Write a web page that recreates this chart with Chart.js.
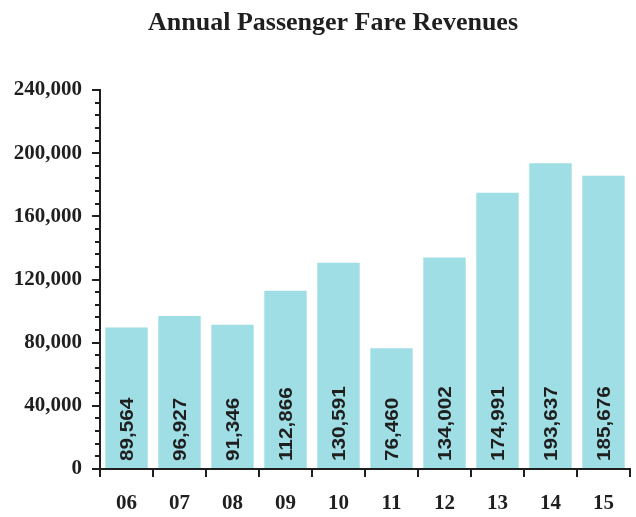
<!DOCTYPE html>
<html>
<head>
<meta charset="utf-8">
<script src="https://cdn.jsdelivr.net/npm/chart.js@4"></script>
<style>
  html, body { margin: 0; padding: 0; background: #fff; }
  #wrap { width: 636px; height: 517px; }
</style>
</head>
<body>
<div id="wrap"><canvas id="fareChart" width="636" height="517"></canvas></div>
<script>
const years = ['06', '07', '08', '09', '10', '11', '12', '13', '14', '15'];
const revenues = [89564, 96927, 91346, 112866, 130591, 76460, 134002, 174991, 193637, 185676];
const yMax = 240000;
const majorStep = 40000;
const minorStep = 8000;
const chartTitle = 'Annual Passenger Fare Revenues';

const ink = '#1f1f1f';
const serif = '"Liberation Serif", "Times New Roman", serif';

// title (set a little right of the canvas centre), minor y ticks,
// and the rotated value labels inside each bar
const extras = {
  id: 'extras',
  afterDraw(chart) {
    const ctx = chart.ctx;
    ctx.save();
    ctx.fillStyle = ink;
    ctx.font = 'bold 26px ' + serif;
    ctx.textAlign = 'center';
    ctx.textBaseline = 'middle';
    ctx.fillText(chartTitle, 333, 23);
    ctx.restore();
  },
  afterDatasetsDraw(chart) {
    const ctx = chart.ctx;
    const y = chart.scales.y;
    const x0 = chart.chartArea.left;
    ctx.save();
    ctx.strokeStyle = ink;
    ctx.lineWidth = 2;
    for (let v = 0; v <= yMax; v += minorStep) {
      if (v % majorStep === 0) continue;
      const py = Math.round(y.getPixelForValue(v));
      ctx.beginPath();
      ctx.moveTo(x0 - 5, py);
      ctx.lineTo(x0, py);
      ctx.stroke();
    }

    const meta = chart.getDatasetMeta(0);
    const size = 18;
    ctx.fillStyle = ink;
    ctx.font = 'bold ' + size + 'px "Liberation Sans", Arial, sans-serif';
    ctx.textAlign = 'left';
    ctx.textBaseline = 'alphabetic';
    meta.data.forEach((bar, i) => {
      ctx.save();
      ctx.translate(bar.x, y.getPixelForValue(0) - 8);
      ctx.rotate(-Math.PI / 2);
      ctx.scale(1.15, 1);
      ctx.fillText(revenues[i].toLocaleString('en-US'), 0, size * 0.36);
      ctx.restore();
    });
    ctx.restore();
  }
};

new Chart(document.getElementById('fareChart'), {
  type: 'bar',
  data: {
    labels: years,
    datasets: [{
      data: revenues,
      backgroundColor: '#9edee4',
      borderWidth: 0,
      categoryPercentage: 0.8,
      barPercentage: 1
    }]
  },
  options: {
    responsive: false,
    animation: false,
    layout: { padding: { left: 0, right: 6, top: 90, bottom: 0 } },
    plugins: {
      legend: { display: false },
      tooltip: { enabled: false },
      title: { display: false }
    },
    scales: {
      x: {
        afterFit(scale) { scale.height = 48; },
        border: { display: true, color: ink, width: 2 },
        grid: { display: true, drawOnChartArea: false, offset: true, color: ink, lineWidth: 2, tickLength: 8 },
        ticks: { color: ink, padding: 14, font: { family: serif, size: 21, weight: 'bold' } }
      },
      y: {
        min: 0,
        max: yMax,
        afterFit(scale) { scale.width = 100; },
        border: { display: true, color: ink, width: 2 },
        grid: { display: true, drawOnChartArea: false, color: ink, lineWidth: 2, tickLength: 8 },
        ticks: {
          stepSize: majorStep,
          color: ink,
          padding: 10,
          font: { family: serif, size: 21, weight: 'bold' },
          callback: v => v.toLocaleString('en-US')
        }
      }
    }
  },
  plugins: [extras]
});
</script>
</body>
</html>
